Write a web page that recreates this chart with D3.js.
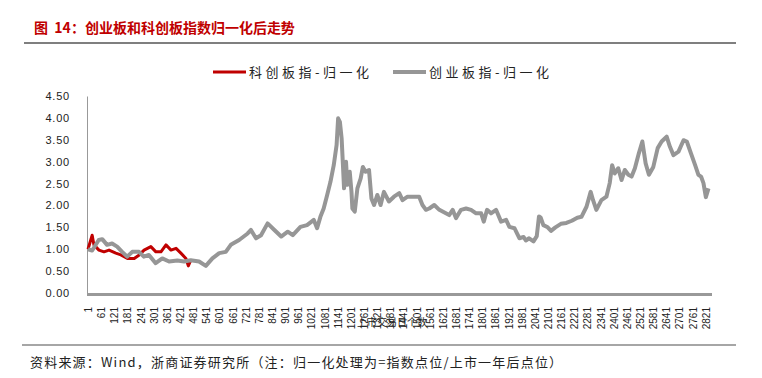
<!DOCTYPE html>
<html>
<head>
<meta charset="utf-8">
<script src="https://cdn.jsdelivr.net/npm/d3@7"></script>
<style>
  body { margin: 0; background: #fff; }
  text { font-family: "Noto Sans CJK SC", "Liberation Sans", sans-serif; }
</style>
</head>
<body>
<div id="chart"></div>
<script>
// 创业板指-归一化: trading day index / value
const cybDays = [1, 20, 50, 66, 88, 111, 134, 157, 180, 203, 234, 256, 279, 310, 340, 371, 409, 440, 470, 508,
  539, 569, 600, 630, 653, 691, 730, 745, 768, 791, 821, 852, 883, 913, 936, 971, 1001, 1032, 1047, 1062,
  1077, 1093, 1108, 1123, 1136, 1143, 1151, 1159, 1165, 1170, 1179, 1185, 1196, 1204, 1208, 1219, 1231, 1246, 1256, 1268,
  1284, 1295, 1307, 1322, 1337, 1352, 1375, 1398, 1422, 1437, 1460, 1490, 1513, 1528, 1544, 1559, 1582, 1605, 1635, 1650,
  1666, 1681, 1704, 1727, 1750, 1773, 1796, 1808, 1823, 1841, 1864, 1887, 1910, 1925, 1948, 1971, 1990, 2000, 2015, 2035,
  2050, 2060, 2068, 2080, 2100, 2115, 2135, 2160, 2185, 2210, 2235, 2254, 2277, 2296, 2307, 2322, 2345, 2368, 2383, 2394,
  2406, 2422, 2437, 2452, 2468, 2483, 2498, 2516, 2532, 2547, 2562, 2582, 2602, 2620, 2643, 2658, 2674, 2697, 2720, 2735,
  2754, 2773, 2788, 2800, 2811, 2822, 2834]
const cybValues = [1.00, 0.97, 1.21, 1.23, 1.10, 1.13, 1.06, 0.94, 0.83, 0.94, 0.94, 0.83, 0.87, 0.68, 0.79, 0.72, 0.74, 0.72, 0.75, 0.72,
  0.62, 0.79, 0.91, 0.94, 1.10, 1.21, 1.36, 1.44, 1.25, 1.32, 1.59, 1.44, 1.29, 1.40, 1.32, 1.51, 1.55, 1.67, 1.48, 1.74,
  1.93, 2.24, 2.54, 2.92, 3.38, 3.99, 3.91, 3.53, 2.92, 2.39, 3.00, 2.47, 2.77, 2.31, 1.93, 1.86, 2.39, 2.62, 2.88, 2.77,
  2.81, 2.16, 2.01, 2.24, 2.01, 2.31, 2.09, 2.20, 2.28, 2.12, 2.20, 2.20, 2.20, 2.01, 1.90, 1.93, 2.01, 1.90, 1.82, 1.78,
  1.90, 1.71, 1.90, 1.93, 1.90, 1.82, 1.82, 1.63, 1.90, 1.82, 1.90, 1.63, 1.67, 1.51, 1.48, 1.25, 1.28, 1.20, 1.25, 1.18,
  1.30, 1.75, 1.72, 1.55, 1.50, 1.42, 1.50, 1.58, 1.60, 1.65, 1.72, 1.74, 1.97, 2.31, 2.12, 1.90, 2.12, 2.20, 2.51, 2.92,
  2.73, 2.85, 2.58, 2.81, 2.70, 2.66, 2.85, 3.19, 3.46, 2.96, 2.70, 2.88, 3.31, 3.46, 3.57, 3.34, 3.15, 3.23, 3.49, 3.46,
  3.19, 2.92, 2.70, 2.66, 2.51, 2.19, 2.39]

// 科创板指-归一化
const kcbDays = [1, 20, 28, 51, 74, 97, 128, 151, 181, 212, 235, 257, 288, 311, 334, 357, 380, 403, 425, 448, 459, 468]
const kcbValues = [1.00, 1.32, 1.10, 0.98, 0.94, 0.98, 0.91, 0.87, 0.79, 0.79, 0.87, 0.98, 1.06, 0.94, 0.94, 1.10, 0.98, 1.02, 0.91, 0.79, 0.62, 0.72]

const yTicks = [0, 0.5, 1, 1.5, 2, 2.5, 3, 3.5, 4, 4.5]
const xTicks = d3.range(1, 2822, 60)
const seriesNames = ["科创板指-归一化", "创业板指-归一化"]
const seriesColors = ["#c00000", "#969696"]

const titleText = "图  14：创业板和科创板指数归一化后走势"
const axisTitle = "上市交易日个数"
const sourceText = "资料来源：Wind，浙商证券研究所（注：归一化处理为=指数点位/上市一年后点位）"

let dimensions = {
    width: 762,
    height: 378,
    margin: { top: 96, right: 50, bottom: 85, left: 87 },
}
dimensions.boundedWidth = dimensions.width - dimensions.margin.left - dimensions.margin.right
dimensions.boundedHeight = dimensions.height - dimensions.margin.top - dimensions.margin.bottom

const svg = d3.select("#chart")
    .append("svg")
        .attr("width", dimensions.width)
        .attr("height", dimensions.height)

// header
svg.append("text")
    .attr("x", 34)
    .attr("y", 33)
    .attr("fill", "#c00000")
    .attr("font-weight", 700)
    .style("font-size", "14px")
    .style("white-space", "pre")
    .text(titleText)
svg.append("line")
    .attr("x1", 24).attr("x2", 736)
    .attr("y1", 43).attr("y2", 43)
    .attr("stroke", "#555").attr("stroke-width", 1.5)

// footer
svg.append("line")
    .attr("x1", 22).attr("x2", 736)
    .attr("y1", 345).attr("y2", 345)
    .attr("stroke", "#888").attr("stroke-width", 1.5)
svg.append("text")
    .attr("x", 30)
    .attr("y", 367)
    .attr("fill", "#222")
    .style("font-size", "13px")
    .attr("letter-spacing", "1.2px")
    .text(sourceText)

const bounds = svg.append("g")
    .attr("transform", `translate(${dimensions.margin.left}, ${dimensions.margin.top})`)

// scales
const xScale = d3.scaleLinear()
    .domain([1, 2850])
    .range([1, dimensions.boundedWidth])
const yScale = d3.scaleLinear()
    .domain([0, 4.5])
    .range([dimensions.boundedHeight, 0])

// axes
const yAxis = bounds.append("g")
    .call(d3.axisLeft(yScale).tickValues(yTicks).tickFormat(d3.format(".2f")).tickSize(0).tickPadding(17))
yAxis.select(".domain").attr("stroke", "#999")
yAxis.selectAll("text")
    .attr("fill", "#222")
    .style("font-size", "11px")
    .style("font-family", "Liberation Sans, Arial, sans-serif")
    .attr("letter-spacing", "0.8px")

const xAxis = bounds.append("g")
    .attr("transform", `translate(0, ${dimensions.boundedHeight})`)
    .call(d3.axisBottom(xScale).tickValues(xTicks).tickFormat(d => d).tickSize(0))
xAxis.select(".domain").remove()
xAxis.selectAll("text")
    .attr("fill", "#222")
    .style("font-size", "10px")
    .style("font-family", "Liberation Sans, Arial, sans-serif")
    .attr("text-anchor", "end")
    .attr("dy", "0.35em")
    .attr("transform", "translate(0, 14) rotate(-90)")
    .attr("y", 0)
    .attr("x", 0)

bounds.append("line")
    .attr("x1", 0).attr("x2", dimensions.boundedWidth)
    .attr("y1", dimensions.boundedHeight + 1.5).attr("y2", dimensions.boundedHeight + 1.5)
    .attr("stroke", "#999").attr("stroke-width", 3)

bounds.append("text")
    .attr("x", 305)
    .attr("y", dimensions.boundedHeight + 33)
    .attr("text-anchor", "middle")
    .attr("fill", "#222")
    .style("font-size", "10px")
    .text(axisTitle)

// lines
const lineGen = d3.line()
    .x(d => xScale(d[0]))
    .y(d => yScale(d[1]))

const kcbData = kcbDays.map((d, i) => [d, kcbValues[i]])
const cybData = cybDays.map((d, i) => [d, cybValues[i]])

bounds.append("path")
    .datum(kcbData)
    .attr("d", lineGen)
    .attr("fill", "none")
    .attr("stroke", seriesColors[0])
    .attr("stroke-width", 3)
    .attr("stroke-linejoin", "round")

bounds.append("path")
    .datum(cybData)
    .attr("d", lineGen)
    .attr("fill", "none")
    .attr("stroke", seriesColors[1])
    .attr("stroke-width", 4)
    .attr("stroke-linejoin", "round")

// legend
const legendX = [213, 393]
const legend = svg.selectAll(".legend")
    .data(seriesNames)
    .enter()
    .append("g")
        .attr("transform", (d, i) => `translate(${legendX[i]}, 72)`)
legend.append("line")
    .attr("x1", 0).attr("x2", 33)
    .attr("stroke", (d, i) => seriesColors[i])
    .attr("stroke-width", (d, i) => i == 0 ? 3 : 4)
legend.append("text")
    .attr("x", 36)
    .attr("dy", "0.35em")
    .attr("fill", "#222")
    .style("font-size", "13px")
    .attr("letter-spacing", "3.5px")
    .text(d => d)
</script>
</body>
</html>
